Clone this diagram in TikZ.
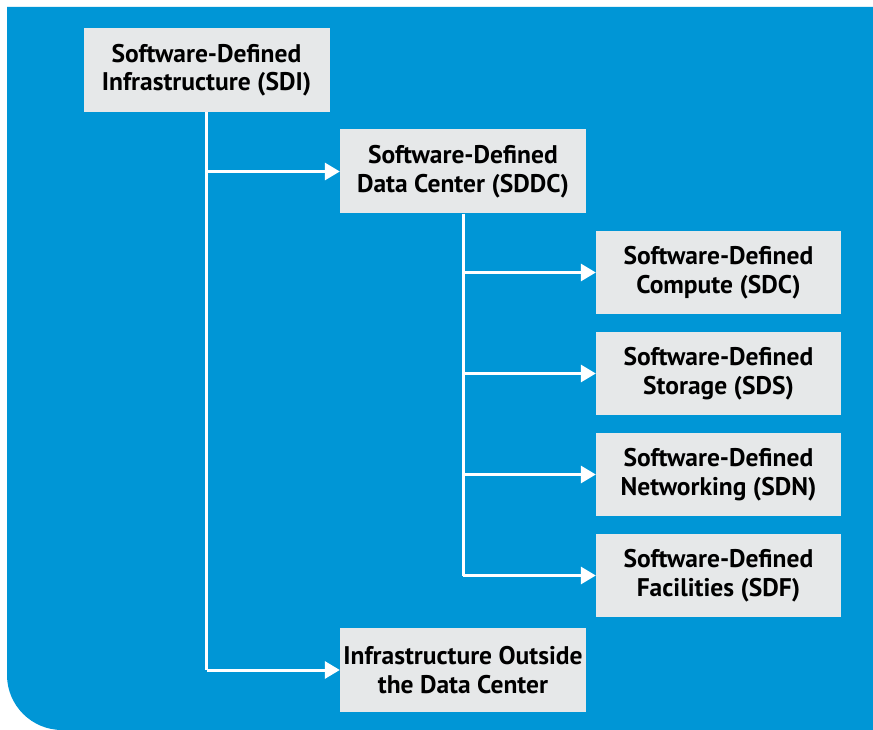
\documentclass[tikz,border=0pt]{standalone}
\usepackage{fontspec}
\setmainfont{PT Sans}
\usetikzlibrary{arrows.meta}
\definecolor{bgblue}{HTML}{0096D6}
\definecolor{boxgray}{HTML}{E6E8E9}
\tikzset{
  box/.style={fill=boxgray, minimum width=246pt, minimum height=84pt, inner sep=0pt,
    align=center, font=\fontsize{25.5}{28.5}\selectfont\bfseries},
  conn/.style={draw=white, line width=3pt},
  arr/.style={conn, -{Triangle[length=15pt,width=17pt]}}
}
\begin{document}
\begin{tikzpicture}[x=1pt,y=-1pt]
\useasboundingbox (0,0) rectangle (873,730);
\fill[white] (0,0) rectangle (873,730);
\fill[bgblue] (7,7) -- (873,7) -- (873,730) -- (62,730) arc[start angle=90,end angle=180,radius=55] -- cycle;
\node[box] (sdi) at (206.5,70) {Software-Defined\\Infrastructure (SDI)};
\node[box] (sddc) at (463,171.5) {Software-Defined\\Data Center (SDDC)};
\node[box, minimum width=245pt, minimum height=83pt] (sdc) at (718.5,272.5) {Software-Defined\\Compute (SDC)};
\node[box, minimum width=245pt, minimum height=83pt] (sds) at (718.5,373.5) {Software-Defined\\Storage (SDS)};
\node[box, minimum width=245pt, minimum height=83pt] (sdn) at (718.5,474.5) {Software-Defined\\Networking (SDN)};
\node[box, minimum width=245pt, minimum height=83pt] (sdf) at (718.5,575.5) {Software-Defined\\Facilities (SDF)};
\node[box] (out) at (463,670) {Infrastructure Outside\\the Data Center};
\coordinate (j1) at (sdi.south |- sddc.west);
\coordinate (j2) at (sdi.south |- out.west);
\draw[conn] (sdi.south) -- (j2);
\draw[arr] (j1) -- (sddc.west);
\draw[arr] (j2) -- (out.west);
\coordinate (k1) at (sddc.south |- sdc.west);
\coordinate (k2) at (sddc.south |- sds.west);
\coordinate (k3) at (sddc.south |- sdn.west);
\coordinate (k4) at (sddc.south |- sdf.west);
\draw[conn] (sddc.south) -- (k4);
\draw[arr] (k1) -- (sdc.west);
\draw[arr] (k2) -- (sds.west);
\draw[arr] (k3) -- (sdn.west);
\draw[arr] (k4) -- (sdf.west);
\end{tikzpicture}
\end{document}
